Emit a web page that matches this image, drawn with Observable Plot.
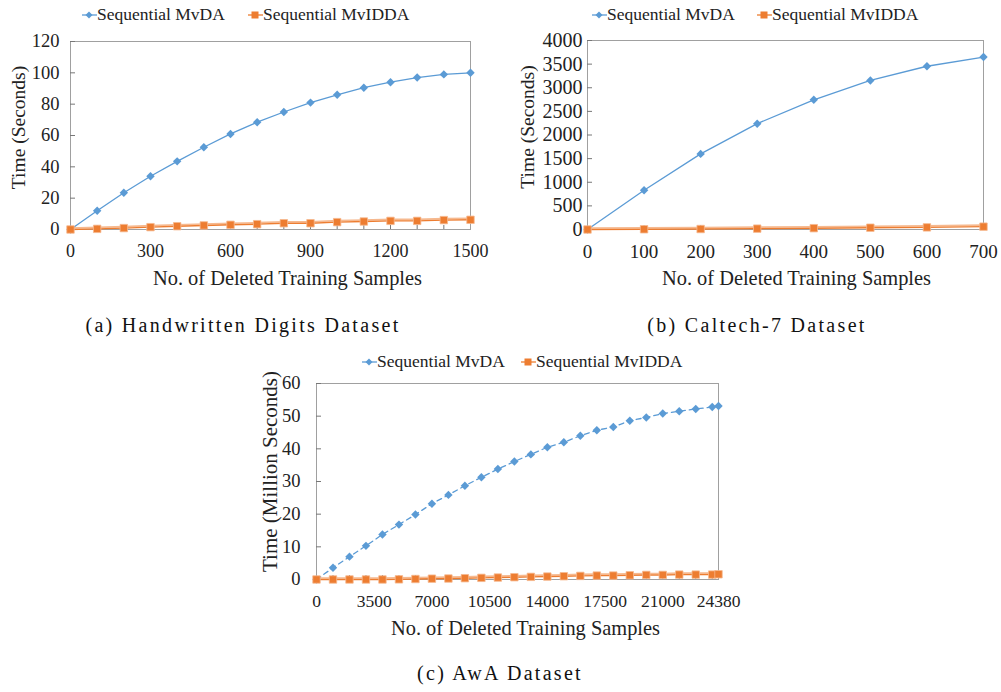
<!DOCTYPE html>
<html>
<head>
<meta charset="utf-8">
<script src="https://cdn.jsdelivr.net/npm/d3@7"></script>
<script src="https://cdn.jsdelivr.net/npm/@observablehq/plot@0.6"></script>
<style>
  body { margin: 0; background: #fff; }
  #root { position: relative; width: 1001px; height: 692px; background: #fff; overflow: hidden; font-family: "Liberation Serif", serif; color: #222; }
  .leg { position: absolute; display: flex; align-items: center; font-size: 17.5px; white-space: nowrap; line-height: 1; }
  .leg svg { display: block; }
  .cap { position: absolute; font-family: "Liberation Serif", serif; font-size: 20px; letter-spacing: 2.3px; white-space: nowrap; transform: translate(-50%, -50%); color: #111; }
</style>
</head>
<body>
<div id="root"></div>
<script>
// ---------- data ----------
const seriesNames = ["Sequential MvDA", "Sequential MvIDDA"];
const xTitle = "No. of Deleted Training Samples";

// (a) Handwritten Digits
const aX = [0, 100, 200, 300, 400, 500, 600, 700, 800, 900, 1000, 1100, 1200, 1300, 1400, 1500];
const aMvDA = [0, 12, 23.5, 34, 43.5, 52.5, 61, 68.5, 75, 81, 86, 90.5, 94, 97, 99, 100];
const aMvIDDA = [0, 0.4, 0.9, 1.5, 2.1, 2.6, 3.0, 3.4, 4.0, 4.0, 4.7, 5.1, 5.5, 5.5, 6.0, 6.2];
const aXTicks = [0, 300, 600, 900, 1200, 1500];
const aYTicks = [0, 20, 40, 60, 80, 100, 120];

// (b) Caltech-7
const bX = [0, 100, 200, 300, 400, 500, 600, 700];
const bMvDA = [0, 830, 1600, 2240, 2745, 3155, 3455, 3650];
const bMvIDDA = [0, 5, 10, 18, 28, 38, 45, 60];
const bXTicks = [0, 100, 200, 300, 400, 500, 600, 700];
const bYTicks = [0, 500, 1000, 1500, 2000, 2500, 3000, 3500, 4000];

// (c) AwA
const cX = [0, 1000, 2000, 3000, 4000, 5000, 6000, 7000, 8000, 9000, 10000, 11000, 12000,
            13000, 14000, 15000, 16000, 17000, 18000, 19000, 20000, 21000, 22000, 23000, 24000, 24380];
const cMvDA = [0, 3.6, 7.0, 10.3, 13.8, 16.8, 19.9, 23.2, 25.9, 28.7, 31.3, 33.8, 36.1,
               38.3, 40.5, 42.0, 44.0, 45.7, 46.7, 48.6, 49.6, 50.8, 51.5, 52.2, 52.8, 53.1];
const cMvIDDA = [0, 0, 0, 0, 0, 0.05, 0.15, 0.25, 0.3, 0.4, 0.5, 0.6, 0.7,
                 0.8, 0.9, 1.0, 1.1, 1.2, 1.2, 1.3, 1.4, 1.4, 1.5, 1.5, 1.5, 1.6];
const cXTicks = [0, 3500, 7000, 10500, 14000, 17500, 21000, 24380];
const cYTicks = [0, 10, 20, 30, 40, 50, 60];

const captions = ["(a) Handwritten Digits Dataset", "(b) Caltech-7 Dataset", "(c) AwA Dataset"];
const yTitles = ["Time (Seconds)", "Time (Seconds)", "Time (Million Seconds)"];

const BLUE = "#5B9BD5", ORANGE = "#ED7D31", ORANGE_LIGHT = "#F6B98F";
const FONT = "Liberation Serif";

const root = document.getElementById("root");

function chart(o) {
  const s1 = o.xs.map((x, i) => ({x, y: o.s1[i]}));
  const s2 = o.xs.map((x, i) => ({x, y: o.s2[i]}));
  const fmt = d => String(d);
  const p = Plot.plot({
    width: o.width, height: o.height,
    marginLeft: o.ml, marginRight: o.mr, marginTop: o.mt, marginBottom: o.mb,
    style: {fontFamily: "'Liberation Serif', serif", fontSize: "18px", color: "#222", background: "transparent", overflow: "visible"},
    x: {domain: o.xDomain},
    y: {domain: o.yDomain},
    marks: [
      Plot.frame({stroke: "#A0A0A0", strokeWidth: 1}),
      // inward tick marks
      Plot.axisY({ticks: o.yTicks, tickSize: 5, dx: 5, tickFormat: () => "", label: null, stroke: "#777"}),
      Plot.axisX({ticks: o.xs.slice(1, -1), tickSize: 4, dy: -4, tickFormat: () => "", label: null, stroke: "#777"}),
      // tick labels
      Plot.axisY({ticks: o.yTicks, tickSize: 0, tickPadding: o.yPad, tickFormat: fmt, label: null, fill: "#222", fontSize: o.yFont, fontFamily: FONT}),
      Plot.axisX({ticks: o.xTicks, tickSize: 0, tickPadding: 15, tickFormat: fmt, label: null, fill: "#222", fontSize: o.xFont, fontFamily: FONT}),
      // axis titles
      Plot.text([xTitle], {frameAnchor: "bottom", dx: o.xTitleDx, dy: 49, text: d => d, fontSize: 20.4, fontFamily: FONT, textAnchor: "middle", lineAnchor: "middle", fill: "#222"}),
      Plot.text([o.yTitle], {frameAnchor: "left", dx: o.yTitleDx, dy: o.yTitleDy, rotate: -90, text: d => d, fontSize: o.yTitleSize, fontFamily: FONT, textAnchor: "middle", lineAnchor: "middle", fill: "#222"}),
      // MvIDDA
      Plot.line(s2, {x: "x", y: "y", stroke: ORANGE_LIGHT, strokeWidth: 1.6, dy: -1.5}),
      Plot.line(s2, {x: "x", y: "y", stroke: ORANGE, strokeWidth: 1.4}),
      // MvDA
      Plot.line(s1, {x: "x", y: "y", stroke: BLUE, strokeWidth: 1.3, strokeDasharray: o.dash || null}),
      Plot.dot(s1, {x: "x", y: "y", symbol: "diamond2", r: 3.8, fill: BLUE, stroke: "none"}),
      Plot.dot(s2, {x: "x", y: "y", symbol: "square", r: 4.2, fill: ORANGE, stroke: ORANGE_LIGHT, strokeWidth: 0.8})
    ]
  });
  p.style.position = "absolute";
  p.style.left = o.left + "px";
  p.style.top = o.top + "px";
  root.appendChild(p);
}

function legendItem(x, y, idx) {
  const d = document.createElement("div");
  d.className = "leg";
  d.style.left = x + "px";
  d.style.top = (y - 9) + "px";
  const color = idx === 0 ? BLUE : ORANGE;
  const marker = idx === 0
    ? `<path d="M7,2.5 L10.5,6 L7,9.5 L3.5,6 Z" fill="${color}"/>`
    : `<rect x="3.5" y="2.5" width="7" height="7" fill="${color}"/>`;
  d.innerHTML = `<svg width="15" height="12" viewBox="0 0 15 12"><line x1="0" y1="6" x2="15" y2="6" stroke="${color}" stroke-width="1.3"/>${marker}</svg><span>${seriesNames[idx]}</span>`;
  root.appendChild(d);
}

function caption(text, cx, cy) {
  const d = document.createElement("div");
  d.className = "cap";
  d.style.left = cx + "px";
  d.style.top = cy + "px";
  d.textContent = text;
  root.appendChild(d);
}

// (a)
chart({xs: aX, s1: aMvDA, s2: aMvIDDA, xDomain: [0, 1500], yDomain: [0, 120], xTicks: aXTicks, yTicks: aYTicks,
  yTitle: yTitles[0], left: 0, top: 30, width: 500, height: 270, ml: 70, mr: 30, mt: 11, mb: 71, yPad: 11,
  yTitleDx: -52, yTitleDy: -8, yTitleSize: 19.5, xTitleDx: 17, xFont: 18, yFont: 18.5});
legendItem(82, 15, 0); legendItem(248, 15, 1);
caption(captions[0], 243, 325);

// (b)
chart({xs: bX, s1: bMvDA, s2: bMvIDDA, xDomain: [0, 700], yDomain: [0, 4000], xTicks: bXTicks, yTicks: bYTicks,
  yTitle: yTitles[1], left: 500, top: 30, width: 501, height: 270, ml: 87, mr: 18, mt: 10, mb: 71, yPad: 5,
  yTitleDx: -60, yTitleDy: -8, yTitleSize: 19.5, xTitleDx: 11, xFont: 19, yFont: 20});
legendItem(592, 15, 0); legendItem(757, 15, 1);
caption(captions[1], 757, 325);

// (c)
chart({xs: cX, s1: cMvDA, s2: cMvIDDA, xDomain: [0, 24380], yDomain: [0, 60], xTicks: cXTicks, yTicks: cYTicks,
  yTitle: yTitles[2], left: 250, top: 375, width: 500, height: 260, ml: 66, mr: 32, mt: 8, mb: 56, yPad: 16,
  yTitleDx: -46, yTitleDy: -10, yTitleSize: 21, xTitleDx: 8, dash: "5,4", xFont: 17.5, yFont: 18.5});
legendItem(362, 362, 0); legendItem(521, 362, 1);
caption(captions[2], 500, 673);
</script>
</body>
</html>
